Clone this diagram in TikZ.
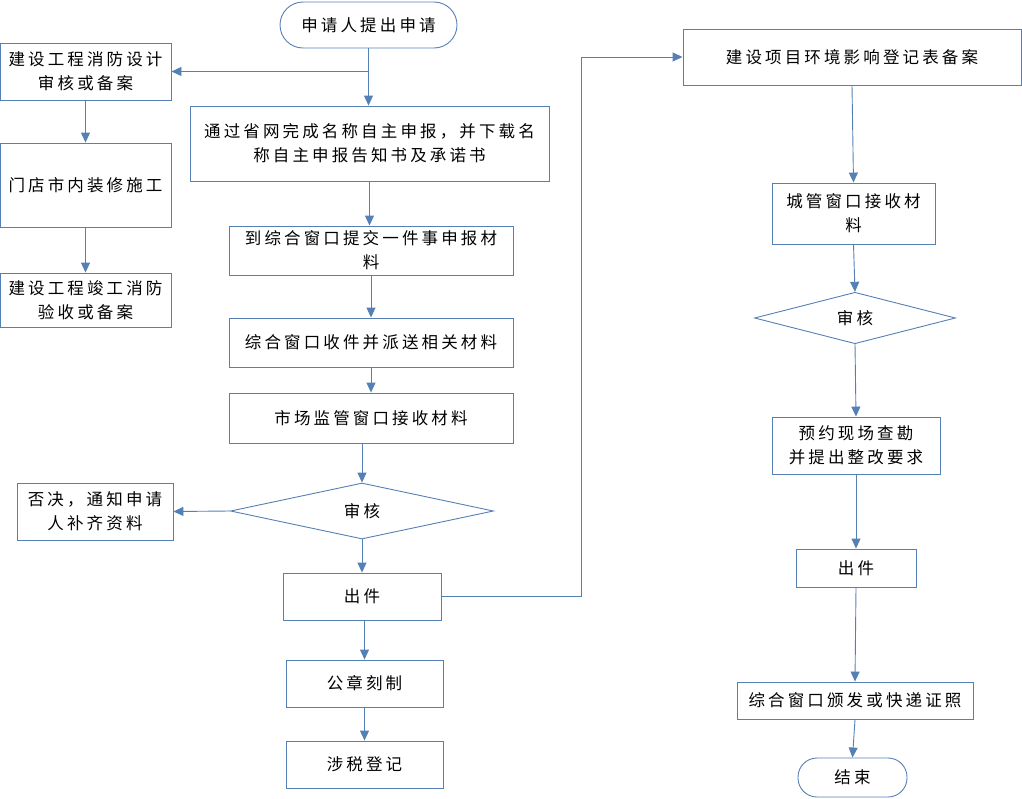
\documentclass[tikz,border=0pt]{standalone}
\usepackage{fontspec}
\setmainfont{Noto Sans CJK SC}[LetterSpace=19]
\usetikzlibrary{shapes.geometric,arrows.meta}
\definecolor{lc}{HTML}{5580B4}
\begin{document}
\begin{tikzpicture}[x=1pt,y=-1pt,
  every node/.style={font=\fontsize{16.5}{24}\selectfont, text=black, align=center, inner sep=0pt},
  box/.style={draw=lc, line width=0.9pt, fill=white, rectangle},
  term/.style={draw=lc, line width=0.9pt, fill=white, rectangle, rounded corners=#1},
  dia/.style={draw=lc, line width=0.9pt, fill=white, diamond},
  arr/.style={draw=lc, line width=0.9pt, -{Triangle[length=10pt,width=9pt]}}]
\useasboundingbox (0,0) rectangle (1022,798);
% left column
\node[term=23pt, minimum width=177pt, minimum height=46pt] (start) at (368.5,25) {申请人提出申请};
\node[box, minimum width=171pt, minimum height=57pt] (fire1) at (85.5,71.5) {建设工程消防设计\\审核或备案};
\node[box, minimum width=171pt, minimum height=84pt] (mendian) at (85.5,185) {门店市内装修施工};
\node[box, minimum width=171pt, minimum height=54pt] (fire2) at (85.5,300) {建设工程竣工消防\\验收或备案};
\node[box, minimum width=359pt, minimum height=75pt] (tongguo) at (369.5,143.5) {通过省网完成名称自主申报，并下载名\\称自主申报告知书及承诺书};
\node[box, minimum width=284pt, minimum height=49pt] (daozonghe) at (371,250.5) {到综合窗口提交一件事申报材\\料};
\node[box, minimum width=284pt, minimum height=49pt] (shoujian) at (371,342.5) {综合窗口收件并派送相关材料};
\node[box, minimum width=284pt, minimum height=50pt] (shichang) at (371,418) {市场监管窗口接收材料};
\node[dia, minimum width=263pt, minimum height=56pt] (d1) at (362,511) {审核};
\node[box, minimum width=156pt, minimum height=57pt] (foujue) at (95,511.5) {否决，通知申请\\人补齐资料};
\node[box, minimum width=158pt, minimum height=47pt] (chujian1) at (362,596.5) {出件};
\node[box, minimum width=157pt, minimum height=47pt] (gongzhang) at (364.5,683.5) {公章刻制};
\node[box, minimum width=157pt, minimum height=47pt] (sheshui) at (364.5,764.5) {涉税登记};
% right column
\node[box, minimum width=338pt, minimum height=56pt] (huanjing) at (852,57) {建设项目环境影响登记表备案};
\node[box, minimum width=163pt, minimum height=61pt] (chengguan) at (853.5,213.5) {城管窗口接收材\\料};
\node[dia, minimum width=201pt, minimum height=38pt] (d2) at (855,318) {审核};
\node[box, minimum width=168pt, minimum height=57pt] (yuyue) at (856,445.5) {预约现场查勘\\并提出整改要求};
\node[box, minimum width=120pt, minimum height=38pt] (chujian2) at (856,568) {出件};
\node[box, minimum width=236pt, minimum height=37pt] (banfa) at (855,700.5) {综合窗口颁发或快递证照};
\node[term=19pt, minimum width=109pt, minimum height=39pt] (end) at (852.5,777.5) {结束};
\coordinate (bend) at (581,57);
% connectors
\draw[arr] (start.south) -- (start.south |- tongguo.north);
\draw[arr] (start.south |- fire1.east) -- (fire1.east);
\draw[arr] (fire1.south) -- (mendian.north);
\draw[arr] (mendian.south) -- (fire2.north);
\draw[arr] (tongguo.south) -- (tongguo.south |- daozonghe.north);
\draw[arr] (daozonghe.south) -- (shoujian.north);
\draw[arr] (shoujian.south) -- (shichang.north);
\draw[arr] (d1.north |- shichang.south) -- (d1.north);
\draw[arr] (d1.west) -- (foujue.east);
\draw[arr] (d1.south) -- (chujian1.north);
\draw[arr] (chujian1.south -| gongzhang.north) -- (gongzhang.north);
\draw[arr] (gongzhang.south) -- (sheshui.north);
\draw[arr] (chujian1.east) -| (bend) -- (huanjing.west);
\draw[arr] (huanjing.south) -- (chengguan.north);
\draw[arr] (chengguan.south) -- (d2.north);
\draw[arr] (d2.south) -- (yuyue.north);
\draw[arr] (yuyue.south) -- (chujian2.north);
\draw[arr] (chujian2.south) -- (banfa.north);
\draw[arr] (banfa.south) -- (end.north);
\end{tikzpicture}
\end{document}
